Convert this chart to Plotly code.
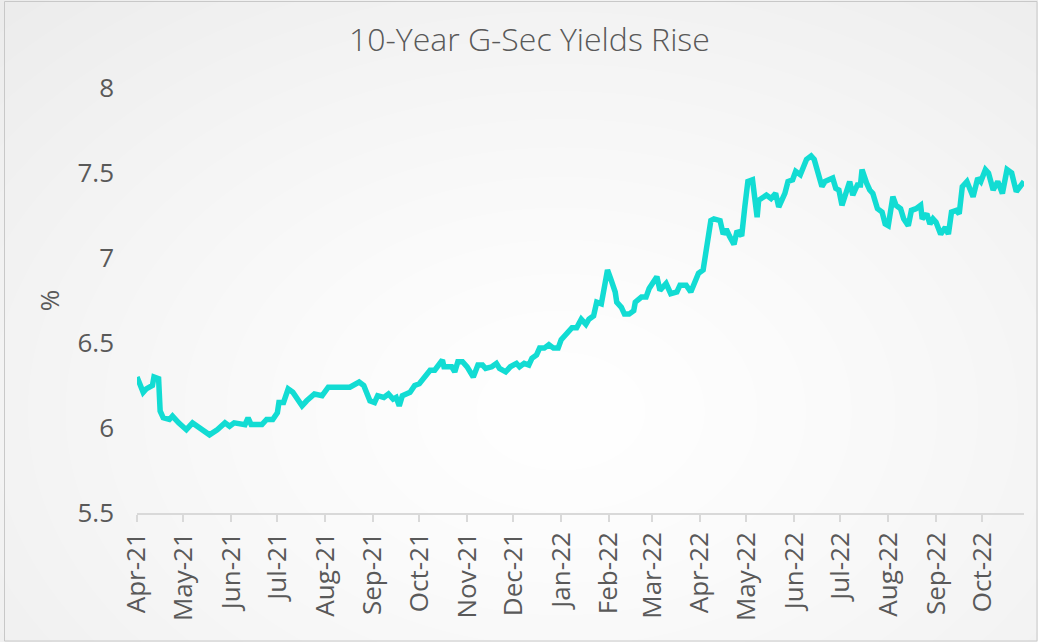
import base64
import struct
import zlib

import numpy as np
import plotly.graph_objects as go

# ---------------- data ----------------
dates = [
    "2021-04-01", "2021-04-05", "2021-04-07", "2021-04-11", "2021-04-12", "2021-04-15",
    "2021-04-16", "2021-04-18", "2021-04-22", "2021-04-24", "2021-04-28", "2021-05-03",
    "2021-05-07", "2021-05-13", "2021-05-18", "2021-05-23", "2021-05-28", "2021-05-31",
    "2021-06-03", "2021-06-10", "2021-06-12", "2021-06-14", "2021-06-21", "2021-06-24",
    "2021-06-28", "2021-07-01", "2021-07-02", "2021-07-05", "2021-07-08", "2021-07-11",
    "2021-07-17", "2021-07-20", "2021-07-25", "2021-07-30", "2021-08-03", "2021-08-17",
    "2021-08-23", "2021-08-26", "2021-08-30", "2021-09-02", "2021-09-04", "2021-09-08",
    "2021-09-11", "2021-09-14", "2021-09-16", "2021-09-18", "2021-09-20", "2021-09-25",
    "2021-09-28", "2021-10-01", "2021-10-04", "2021-10-08", "2021-10-11", "2021-10-16",
    "2021-10-17", "2021-10-22", "2021-10-24", "2021-10-26", "2021-10-29", "2021-11-01",
    "2021-11-05", "2021-11-08", "2021-11-11", "2021-11-13", "2021-11-17", "2021-11-20",
    "2021-11-22", "2021-11-26", "2021-11-29", "2021-12-03", "2021-12-05", "2021-12-08",
    "2021-12-11", "2021-12-13", "2021-12-16", "2021-12-18", "2021-12-21", "2021-12-24",
    "2021-12-27", "2021-12-30", "2022-01-01", "2022-01-05", "2022-01-08", "2022-01-11",
    "2022-01-14", "2022-01-17", "2022-01-19", "2022-01-22", "2022-01-24", "2022-01-27",
    "2022-01-29", "2022-01-31", "2022-02-02", "2022-02-05", "2022-02-06", "2022-02-09",
    "2022-02-11", "2022-02-14", "2022-02-17", "2022-02-18", "2022-02-22", "2022-02-25",
    "2022-02-27", "2022-03-01", "2022-03-04", "2022-03-06", "2022-03-10", "2022-03-13",
    "2022-03-17", "2022-03-19", "2022-03-23", "2022-03-26", "2022-03-30", "2022-03-31",
    "2022-04-03", "2022-04-05", "2022-04-08", "2022-04-10", "2022-04-14", "2022-04-16",
    "2022-04-18", "2022-04-20", "2022-04-23", "2022-04-25", "2022-04-28", "2022-04-30",
    "2022-05-02", "2022-05-05", "2022-05-08", "2022-05-09", "2022-05-14", "2022-05-17",
    "2022-05-20", "2022-05-22", "2022-05-26", "2022-05-28", "2022-05-31", "2022-06-02",
    "2022-06-05", "2022-06-09", "2022-06-12", "2022-06-14", "2022-06-17", "2022-06-19",
    "2022-06-21", "2022-06-26", "2022-06-28", "2022-06-30", "2022-07-02", "2022-07-05",
    "2022-07-07", "2022-07-09", "2022-07-12", "2022-07-14", "2022-07-15", "2022-07-18",
    "2022-07-20", "2022-07-22", "2022-07-25", "2022-07-28", "2022-07-30", "2022-08-01",
    "2022-08-04", "2022-08-06", "2022-08-09", "2022-08-11", "2022-08-14", "2022-08-16",
    "2022-08-19", "2022-08-22", "2022-08-23", "2022-08-26", "2022-08-28", "2022-08-30",
    "2022-09-01", "2022-09-04", "2022-09-07", "2022-09-09", "2022-09-11", "2022-09-14",
    "2022-09-16", "2022-09-18", "2022-09-21", "2022-09-25", "2022-09-28", "2022-09-30",
    "2022-10-03", "2022-10-05", "2022-10-08", "2022-10-11", "2022-10-14", "2022-10-17",
    "2022-10-20", "2022-10-23", "2022-10-28",
]
yields = [
    6.30, 6.21, 6.23, 6.25, 6.30, 6.29,
    6.10, 6.06, 6.05, 6.07, 6.03, 5.99,
    6.03, 5.99, 5.96, 5.99, 6.03, 6.01,
    6.03, 6.02, 6.06, 6.02, 6.02, 6.05,
    6.05, 6.09, 6.15, 6.15, 6.23, 6.21,
    6.13, 6.16, 6.20, 6.19, 6.24, 6.24,
    6.27, 6.25, 6.16, 6.15, 6.19, 6.18,
    6.20, 6.17, 6.18, 6.13, 6.19, 6.21,
    6.25, 6.26, 6.30, 6.34, 6.34, 6.40,
    6.36, 6.36, 6.33, 6.39, 6.39, 6.36,
    6.30, 6.37, 6.37, 6.35, 6.36, 6.38,
    6.35, 6.33, 6.36, 6.38, 6.36, 6.38,
    6.37, 6.41, 6.43, 6.47, 6.47, 6.49,
    6.47, 6.47, 6.52, 6.56, 6.59, 6.59,
    6.64, 6.61, 6.64, 6.66, 6.74, 6.73,
    6.85, 6.93, 6.88, 6.80, 6.74, 6.71,
    6.67, 6.67, 6.69, 6.74, 6.77, 6.77,
    6.82, 6.85, 6.89, 6.81, 6.85, 6.79,
    6.80, 6.84, 6.84, 6.80, 6.88, 6.91,
    6.93, 7.05, 7.22, 7.23, 7.22, 7.14,
    7.17, 7.13, 7.08, 7.16, 7.13, 7.30,
    7.45, 7.46, 7.24, 7.34, 7.37, 7.35,
    7.38, 7.30, 7.38, 7.45, 7.46, 7.51,
    7.49, 7.58, 7.60, 7.58, 7.47, 7.42,
    7.45, 7.47, 7.41, 7.40, 7.31, 7.40,
    7.45, 7.37, 7.43, 7.43, 7.52, 7.44,
    7.40, 7.38, 7.29, 7.27, 7.20, 7.19,
    7.36, 7.31, 7.29, 7.23, 7.19, 7.28,
    7.29, 7.31, 7.23, 7.26, 7.20, 7.23,
    7.21, 7.14, 7.18, 7.14, 7.27, 7.28,
    7.26, 7.42, 7.45, 7.36, 7.47, 7.45,
    7.52, 7.50, 7.40, 7.45, 7.38, 7.52,
    7.50, 7.39, 7.45,
]
title_text = "10-Year G-Sec Yields Rise"
y_title = "%"
y_ticks = [5.5, 6, 6.5, 7, 7.5, 8]
y_tick_labels = ["5.5", "6", "6.5", "7", "7.5", "8"]
x_start, x_end = "2021-04-01", "2022-10-28"

# ---------------- background gradient image ----------------
W, H = 1038, 642


def gradient_uri(w, h):
    xs = np.arange(w)[None, :]
    ys = np.arange(h)[:, None]
    cx, cy = 0.54 * w, 0.64 * h
    r = np.sqrt(((xs - cx) / (0.75 * w)) ** 2 + ((ys - cy) / (0.85 * h)) ** 2)
    v = 255 - 18 * np.clip(r, 0, 1.3) ** 1.3
    v = np.clip(v, 0, 255).astype(np.uint8)
    rgb = np.repeat(v[:, :, None], 3, axis=2)
    raw = b"".join(b"\x00" + rgb[j].tobytes() for j in range(h))

    def chunk(t, d):
        c = struct.pack(">I", len(d)) + t + d
        return c + struct.pack(">I", zlib.crc32(t + d) & 0xFFFFFFFF)

    png = (b"\x89PNG\r\n\x1a\n"
           + chunk(b"IHDR", struct.pack(">IIBBBBB", w, h, 8, 2, 0, 0, 0))
           + chunk(b"IDAT", zlib.compress(raw, 9))
           + chunk(b"IEND", b""))
    return "data:image/png;base64," + base64.b64encode(png).decode()


ML, MR, MT, MB = 137, 14, 88, 129
PW, PH = W - ML - MR, H - MT - MB


def px_x(p):
    return (p - ML) / PW


def px_y(p):
    return (H - MB - p) / PH


TXT = "#595959"
FONT = "Open Sans"

fig = go.Figure()
fig.add_trace(go.Scatter(
    x=dates, y=yields, mode="lines",
    line=dict(color="#12DCD3", width=5.5),
    hoverinfo="x+y", showlegend=False,
))

fig.add_layout_image(dict(
    source=gradient_uri(W, H), xref="paper", yref="paper",
    x=px_x(0), y=px_y(0), sizex=W / PW, sizey=H / PH,
    xanchor="left", yanchor="top", sizing="stretch", layer="below",
))

fig.add_shape(type="rect", xref="paper", yref="paper",
              x0=px_x(4.5), x1=px_x(1037), y0=px_y(1.5), y1=px_y(641),
              line=dict(color="#c8c8c8", width=1), fillcolor="rgba(0,0,0,0)")

fig.update_layout(
    width=W, height=H,
    margin=dict(l=ML, r=MR, t=MT, b=MB),
    paper_bgcolor="#f4f4f4", plot_bgcolor="rgba(0,0,0,0)",
    title=dict(text=title_text, x=0.51, xanchor="center", y=0.938, yanchor="middle",
               font=dict(family=FONT, size=32, color=TXT, weight=300)),
    font=dict(family=FONT, color=TXT),
)
fig.update_xaxes(
    type="date", range=[x_start, x_end],
    tick0="2021-04-01", dtick="M1", tickformat="%b-%y", tickangle=-90,
    ticks="outside", ticklen=7, tickcolor="#d9d9d9", tickwidth=1.5,
    showline=True, linecolor="#d9d9d9", linewidth=1.5,
    showgrid=False, zeroline=False,
    tickfont=dict(family=FONT, size=26, color=TXT),
)
fig.update_yaxes(
    range=[5.5, 8], tickvals=y_ticks, ticktext=y_tick_labels,
    showgrid=False, zeroline=False, showline=False, ticks="",
    ticklabelstandoff=22,
    tickfont=dict(family=FONT, size=26, color=TXT),
    title=dict(text=y_title, standoff=10, font=dict(family=FONT, size=26, color=TXT)),
)

fig.write_html(
    "out.html",
    config={"displayModeBar": False},
    post_script="document.body.style.margin='0';document.body.style.overflow='hidden';",
)
